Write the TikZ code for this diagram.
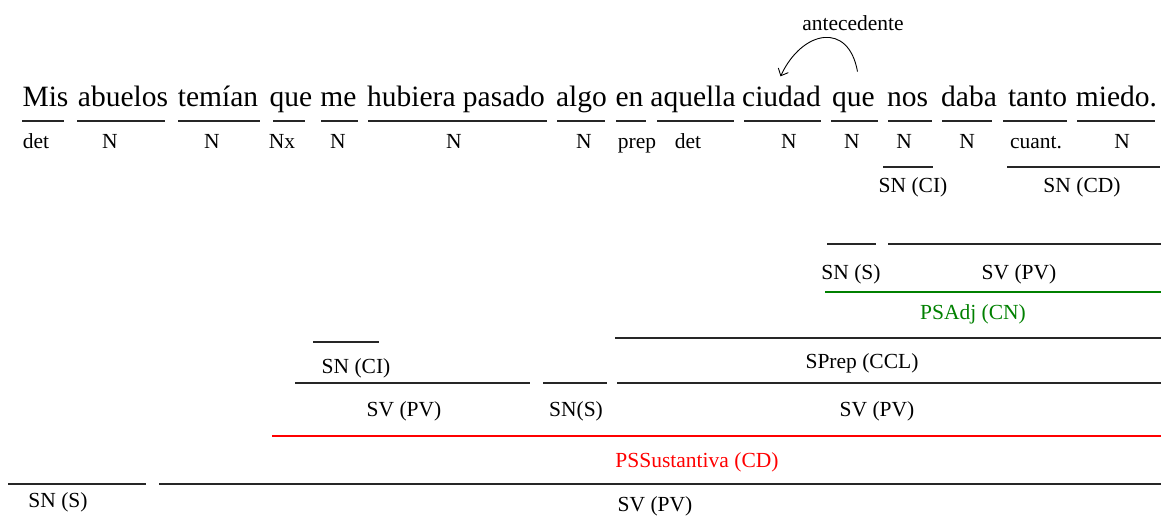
\documentclass[tikz,border=0pt]{standalone}
\usepackage{fontspec}
\setmainfont{Liberation Serif}
\usepackage{tikz}
\usetikzlibrary{arrows.meta}
\definecolor{verde}{RGB}{0,128,0}
\definecolor{rojo}{RGB}{255,0,0}
\tikzset{
  palabra/.style={anchor=base, inner sep=0pt, font=\fontsize{29.5}{32}\selectfont},
  etiq/.style={anchor=base, inner sep=0pt, font=\fontsize{21.5}{24}\selectfont},
  raya/.style={line width=1.5pt, black!85},
}

\begin{document}
\begin{tikzpicture}[x=1pt,y=-1pt]
\useasboundingbox (0,0) rectangle (1161,515);
% la oracion
\node[palabra] (mis) at (45.5,106) {Mis};
\node[palabra] (abuelos) at (123,106) {abuelos};
\node[palabra] (temian) at (218,106) {temían};
\node[palabra] (que1) at (291,106) {que};
\node[palabra] (me) at (338.5,106) {me};
\node[palabra] (hubiera) at (456,106) {hubiera pasado};
\node[palabra] (algo) at (581.5,106) {algo};
\node[palabra] (en) at (629.5,106) {en};
\node[palabra] (aquella) at (693,106) {aquella};
\node[palabra] (ciudad) at (781.5,106) {ciudad};
\node[palabra] (que2) at (853.5,106) {que};
\node[palabra] (nos) at (907.5,106) {nos};
\node[palabra] (daba) at (969,106) {daba};
\node[palabra] (tanto) at (1037.5,106) {tanto};
\node[palabra] (miedo) at (1116.5,106) {miedo.};
% antecedente
\node[etiq] (antec) at (853,30) {antecedente};
\draw[-{Straight Barb[length=6pt,width=11pt]}, line width=0.9pt] ([xshift=4pt,yshift=20pt]que2.north) to[out=100, in=65, looseness=1.7] ([xshift=-1pt,yshift=9pt]ciudad.north);
% categorias
\foreach \a/\b in {22/64, 77/165, 178/260, 273/305, 321/358, 368/547, 557/605, 616/646, 657/734, 744/821, 831/878, 888/932, 942/992, 1003/1067, 1077/1155}
  \draw[raya] (\a,121) -- (\b,121);
\node[etiq] (c1) at (36,148) {det};
\node[etiq] (c2) at (110,148) {N};
\node[etiq] (c3) at (212,148) {N};
\node[etiq] (c4) at (282,148) {Nx};
\node[etiq] (c5) at (338,148) {N};
\node[etiq] (c6) at (454,148) {N};
\node[etiq] (c7) at (584,148) {N};
\node[etiq] (c8) at (637,148) {prep};
\node[etiq] (c9) at (688,148) {det};
\node[etiq] (c10) at (789,148) {N};
\node[etiq] (c11) at (852,148) {N};
\node[etiq] (c12) at (904,148) {N};
\node[etiq] (c13) at (967,148) {N};
\node[etiq] (c14) at (1036,148) {cuant.};
\node[etiq] (c15) at (1122,148) {N};
% subordinada adjetiva
\draw[raya] (883,167) -- (933,167);
\draw[raya] (1007,167) -- (1160,167);
\node[etiq] (snci2) at (913,192) {SN (CI)};
\node[etiq] (sncd) at (1082,192) {SN (CD)};
\draw[raya] (827,244) -- (876,244);
\draw[raya] (888,244) -- (1161,244);
\node[etiq] (sns2) at (851,279) {SN (S)};
\node[etiq] (svpv3) at (1019,279) {SV (PV)};
\draw[line width=2pt, verde] (825,292) -- (1161,292);
\node[etiq, text=verde] (psadj) at (973,319) {PSAdj (CN)};
% subordinada sustantiva
\draw[raya] (615,338) -- (1161,338);
\draw[raya] (313,342) -- (379,342);
\node[etiq] (snci1) at (356,373) {SN (CI)};
\node[etiq] (sprep) at (862,368) {SPrep (CCL)};
\draw[raya] (295,383) -- (530,383);
\draw[raya] (543,383) -- (607,383);
\draw[raya] (617,383) -- (1161,383);
\node[etiq] (svpv2) at (404,416) {SV (PV)};
\node[etiq] (sns3) at (576,416) {SN(S)};
\node[etiq] (svpv4) at (877,416) {SV (PV)};
\draw[line width=2pt, rojo] (272,436) -- (1161,436);
\node[etiq, text=rojo] (pssus) at (697,467) {PSSustantiva (CD)};
% oracion principal
\draw[raya] (8,484) -- (146,484);
\draw[raya] (159,484) -- (1161,484);
\node[etiq] (sns1) at (58,507) {SN (S)};
\node[etiq] (svpv1) at (655,511) {SV (PV)};
\end{tikzpicture}
\end{document}
